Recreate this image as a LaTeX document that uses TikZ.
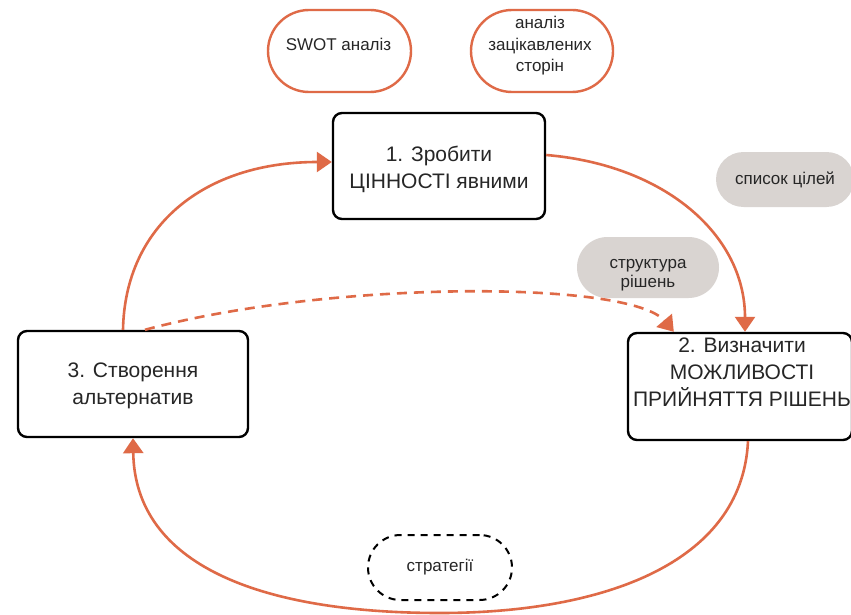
\documentclass[tikz,border=0pt]{standalone}
\usepackage{fontspec}
\setmainfont{Liberation Sans}
\usetikzlibrary{arrows.meta,calc}
\definecolor{org}{HTML}{DF6A47}
\definecolor{pillgrey}{HTML}{D9D4D1}
\definecolor{ink}{HTML}{262626}
\begin{document}
\begin{tikzpicture}[x=1pt,y=-1pt,
 stepbox/.style={draw=black, line width=2.4pt, rounded corners=9pt, fill=white, inner sep=0pt},
 opill/.style={draw=org, line width=2.4pt, fill=white, inner sep=0pt},
 gpill/.style={fill=pillgrey, inner sep=0pt},
 dpill/.style={draw=black, line width=2pt, dash pattern=on 7pt off 6pt, inner sep=0pt},
 big/.style={font=\fontsize{21}{27}\selectfont, text=ink, align=center, inner sep=0pt},
 small/.style={font=\fontsize{17}{21.5}\selectfont, text=ink, align=center, inner sep=0pt},
 flow/.style={draw=org, line width=2.6pt, -{Triangle[length=15pt,width=20pt]}},
]
\clip (0,0) rectangle (851,615);
\fill[white] (0,0) rectangle (851,615);

% top pills
\node[opill, rounded corners=41pt, minimum width=143pt, minimum height=82pt] (swot) at (339.5,51) {};
\node[small] (swott) at (338.5,44) {SWOT аналіз};
\node[opill, rounded corners=41pt, minimum width=142pt, minimum height=82pt] (stake) at (542,51) {};
\node[small] (staket) at (540,46) {аналіз\\зацікавлених\\сторін};

% grey pills
\node[gpill, rounded corners=27.5pt, minimum width=138pt, minimum height=55pt, small] (goals) at (785,179.5) {список цілей};
\node[gpill, rounded corners=30.5pt, minimum width=142pt, minimum height=61pt] (struct) at (648,267.5) {};
\node[small, font=\fontsize{17}{19.5}\selectfont] (structt) at (648,275) {структура\\рішень};

% dashed pill
\node[dpill, rounded corners=32.5pt, minimum width=144pt, minimum height=65pt, small] (strat) at (440,567.5) {стратегії};

% step boxes
\node[stepbox, minimum width=212pt, minimum height=106pt] (b1) at (439,166) {};
\node[big] (b1t) at (439,169) {1. Зробити\\ЦІННОСТІ явними};
\node[stepbox, minimum width=224pt, minimum height=107pt] (b2) at (740,386.5) {};
\node[big] (b2t) at (742,372) {2. Визначити\\МОЖЛИВОСТІ\\ПРИЙНЯТТЯ РІШЕНЬ};
\node[stepbox, minimum width=230pt, minimum height=106pt] (b3) at (133,384) {};
\node[big] (b3t) at (133,386) {3. Створення\\альтернатив};

% connectors
\draw[flow] ([xshift=-10pt]b3.north) .. controls (125,225) and (205,162) .. ([yshift=4pt]b1.west);
\draw[flow] ([yshift=11pt]b1.east) .. controls (665,165) and (745,235) .. ([xshift=5pt]b2.north);
\draw[flow] ([xshift=8pt]b2.south) .. controls (742,565) and (600,613) .. (440,613)
  .. controls (260,613) and (135,565) .. (b3.south);
\draw[flow, dash pattern=on 10pt off 7pt] ([xshift=12pt]b3.north) .. controls (330,280) and (630,280) .. ([xshift=47pt]b2.north west);
\end{tikzpicture}
\end{document}
